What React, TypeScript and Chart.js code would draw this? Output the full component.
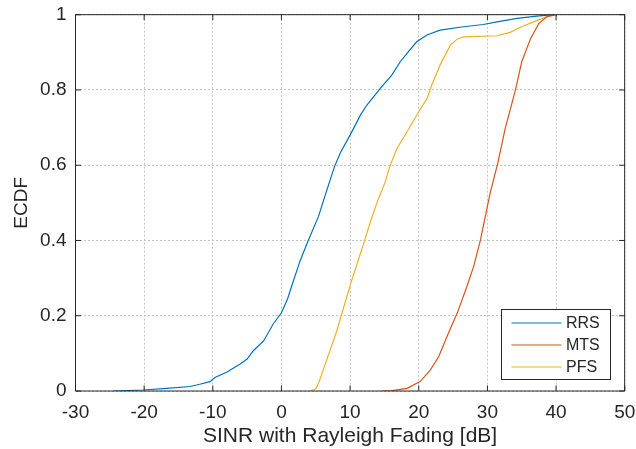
import React, { useEffect, useRef } from "react";
import { Chart, registerables } from "chart.js";

Chart.register(...registerables);

const seriesNames = ["RRS", "MTS", "PFS"];
const seriesColors = ["#0072BD", "#D95319", "#EDB120"];

const rrsX = [-24.5, -20.1, -16.7, -13.3, -11.9, -10.4, -9.7, -8, -6, -5, -4.1, -2.6, -1.2, 0, 0.9, 1.6, 2.7, 3.9, 5.4, 6.4, 7.7, 8.6, 10, 11.5, 12.45, 14.4, 16.1, 17.3, 18.5, 19.7, 21.2, 23.1, 26.5, 29.4, 31.4, 34.3, 37.2, 39.6];
const rrsY = [0, 0.0027, 0.007, 0.012, 0.018, 0.025, 0.036, 0.05, 0.072, 0.085, 0.107, 0.133, 0.178, 0.208, 0.245, 0.285, 0.345, 0.4, 0.464, 0.522, 0.595, 0.634, 0.68, 0.733, 0.76, 0.804, 0.84, 0.875, 0.902, 0.928, 0.946, 0.959, 0.968, 0.974, 0.981, 0.99, 0.996, 1.0];

const mtsX = [14.6, 16.1, 18.3, 20.2, 21.7, 22.9, 24.3, 25.6, 27, 28, 29, 29.7, 30.4, 31.5, 32.6, 34.1, 35, 36.3, 37.5, 38.7, 40.1];
const mtsY = [0, 0.001, 0.007, 0.025, 0.056, 0.091, 0.153, 0.207, 0.277, 0.331, 0.402, 0.464, 0.526, 0.605, 0.698, 0.801, 0.875, 0.937, 0.977, 0.995, 1.0];

const pfsX = [4.2, 4.8, 5.05, 5.5, 6.5, 7.5, 8.1, 8.7, 10.1, 11.2, 12.2, 13, 13.9, 15.1, 15.75, 16.8, 18.3, 20, 21.2, 21.9, 23.1, 24.6, 25.6, 26.5, 31.4, 33.3, 35, 36.7, 38.7, 39.6];
const pfsY = [0, 0.004, 0.007, 0.025, 0.078, 0.13, 0.162, 0.2, 0.286, 0.348, 0.405, 0.452, 0.5, 0.555, 0.595, 0.644, 0.689, 0.742, 0.777, 0.813, 0.866, 0.919, 0.935, 0.941, 0.944, 0.953, 0.968, 0.981, 0.995, 1.0];

const xTicks = [-30, -20, -10, 0, 10, 20, 30, 40, 50];
const yTicks = [0, 0.2, 0.4, 0.6, 0.8, 1];
const xTitle = "SINR with Rayleigh Fading [dB]";
const yTitle = "ECDF";

const FONT = "'Liberation Sans', Arial, Helvetica, sans-serif";
const AXIS_COLOR = "#262626";

const toPoints = (xs: number[], ys: number[]) => xs.map((x, i) => ({ x, y: ys[i] }));

const boxPlugin = {
  id: "matlabBox",
  afterDatasetsDraw(chart: any) {
    const { ctx, chartArea } = chart;
    const { left, right, top, bottom } = chartArea;
    const xs = chart.scales.x;
    const ys = chart.scales.y;
    ctx.save();
    ctx.strokeStyle = AXIS_COLOR;
    ctx.lineWidth = 1;
    ctx.beginPath();
    ctx.rect(left, top, right - left, bottom - top);
    ctx.stroke();
    const tl = 5.5;
    ctx.beginPath();
    xTicks.forEach((v) => {
      const px = xs.getPixelForValue(v);
      ctx.moveTo(px, bottom);
      ctx.lineTo(px, bottom - tl);
      ctx.moveTo(px, top);
      ctx.lineTo(px, top + tl);
    });
    yTicks.forEach((v) => {
      const py = ys.getPixelForValue(v);
      ctx.moveTo(left, py);
      ctx.lineTo(left + tl, py);
      ctx.moveTo(right, py);
      ctx.lineTo(right - tl, py);
    });
    ctx.stroke();

    // legend
    const lx = 501, ly = 309, lw = 109, lh = 70;
    ctx.fillStyle = "#ffffff";
    ctx.fillRect(lx, ly, lw, lh);
    ctx.strokeStyle = AXIS_COLOR;
    ctx.strokeRect(lx + 0.5, ly + 0.5, lw, lh);
    const rows = [323, 345, 367];
    ctx.font = `16px ${FONT}`;
    ctx.textBaseline = "middle";
    ctx.textAlign = "left";
    seriesNames.forEach((name, i) => {
      ctx.strokeStyle = seriesColors[i];
      ctx.lineWidth = 1;
      ctx.beginPath();
      ctx.moveTo(511.5, rows[i]);
      ctx.lineTo(561.5, rows[i]);
      ctx.stroke();
      ctx.fillStyle = AXIS_COLOR;
      ctx.fillText(name, 566, rows[i] + 1);
    });
    ctx.restore();
  },
};

export default function App() {
  const ref = useRef<HTMLCanvasElement | null>(null);
  useEffect(() => {
    document.body.style.margin = "0";
    const canvas = ref.current;
    if (!canvas) return;
    const chart = new Chart(canvas, {
      type: "line",
      data: {
        datasets: [
          { label: seriesNames[0], data: toPoints(rrsX, rrsY), borderColor: seriesColors[0] },
          { label: seriesNames[1], data: toPoints(mtsX, mtsY), borderColor: seriesColors[1] },
          { label: seriesNames[2], data: toPoints(pfsX, pfsY), borderColor: seriesColors[2] },
        ].map((d) => ({ ...d, borderWidth: 1.2, pointRadius: 0, fill: false, tension: 0 })),
      },
      options: {
        responsive: false,
        animation: false,
        layout: { padding: { top: 14.7, right: 11.3, left: 0, bottom: 0 } },
        plugins: { legend: { display: false }, tooltip: { enabled: false } },
        scales: {
          x: {
            type: "linear",
            min: -30,
            max: 50,
            afterFit: (s: any) => { s.height = 58; s.paddingLeft = 0; s.paddingRight = 0; },
            afterBuildTicks: (s: any) => { s.ticks = xTicks.map((v) => ({ value: v })); },
            ticks: { color: AXIS_COLOR, font: { size: 19, family: FONT }, padding: 10, maxRotation: 0, autoSkip: false, callback: (v: any) => String(v) },
            grid: { color: "#c4c4c4", drawTicks: false },
            border: { display: false, dash: [2, 2] },
            title: { display: true, text: xTitle, color: AXIS_COLOR, font: { size: 21, family: FONT }, padding: { top: 0, bottom: 0 } },
          },
          y: {
            type: "linear",
            min: 0,
            max: 1,
            afterFit: (s: any) => { s.width = 75.5; s.paddingTop = 0; s.paddingBottom = 0; },
            afterBuildTicks: (s: any) => { s.ticks = yTicks.map((v) => ({ value: v })); },
            ticks: { color: AXIS_COLOR, font: { size: 19, family: FONT }, padding: 9, autoSkip: false, callback: (v: any) => String(Math.round(Number(v) * 10) / 10) },
            grid: { color: "#c4c4c4", drawTicks: false },
            border: { display: false, dash: [2, 2] },
            title: { display: true, text: yTitle, color: AXIS_COLOR, font: { size: 19, family: FONT }, padding: { top: 10, bottom: 0 } },
          },
        },
      },
      plugins: [boxPlugin],
    });
    return () => chart.destroy();
  }, []);
  return <canvas ref={ref} width={636} height={449} style={{ display: "block", width: 636, height: 449 }} />;
}
